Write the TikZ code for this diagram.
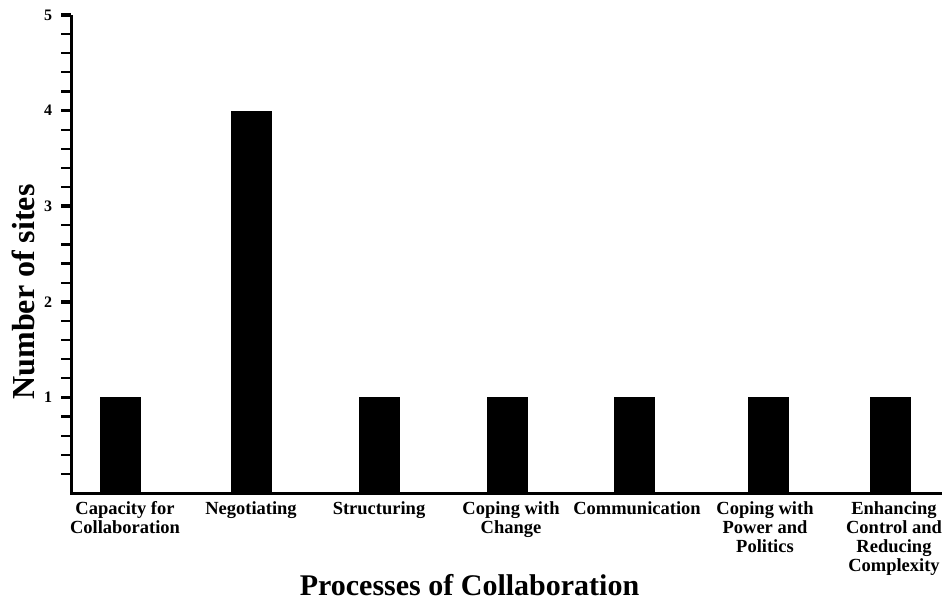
\documentclass[tikz,border=0pt]{standalone}
\usepackage{fontspec}
\setmainfont{Liberation Serif}
\begin{document}
\begin{tikzpicture}[x=1pt,y=-1pt,
  axisline/.style={line width=3pt},
  majortick/.style={line width=3.6pt},
  minortick/.style={line width=2.2pt},
  bar/.style={fill=black,draw=none},
  ticklabel/.style={font=\fontsize{16}{16}\selectfont\bfseries,inner sep=0pt},
  catlabel/.style={font=\fontsize{18.5}{19}\selectfont\bfseries,align=center,anchor=north,inner sep=0pt},
  axistitle/.style={font=\fontsize{30}{30}\selectfont\bfseries,inner sep=0pt}]
\useasboundingbox (0,0) rectangle (942,608);
% scale: value 0 at y=493, 95.6 units per site
\def\yz{493}
\def\yu{95.6}
% axes
\coordinate (origin) at (71,\yz);
\coordinate (ytop) at (71,15);
\coordinate (xend) at (942,\yz);
\draw[axisline] (ytop) -- (origin) -- (xend);
% minor ticks every 0.2
\foreach \k in {1,...,24}{
  \pgfmathsetmacro{\ty}{\yz-\yu*\k/5}
  \draw[minortick] (61,\ty) -- (71,\ty);
}
% major ticks and labels
\foreach \v in {1,...,5}{
  \pgfmathsetmacro{\ty}{\yz-\yu*\v}
  \draw[majortick] (61,\ty) -- (71,\ty);
  \node[ticklabel] (t\v) at (48,\ty) {\v};
}
% bars
\foreach \cx/\v/\nm in {120.5/1/b1,251.5/4/b2,379.5/1/b3,507.5/1/b4,634.5/1/b5,768.5/1/b6,890.5/1/b7}{
  \pgfmathsetmacro{\tp}{\yz-\yu*\v}
  \fill[bar] (\cx-20.5,\tp) rectangle (\cx+20.5,\yz);
  \coordinate (\nm) at (\cx,\yz);
}
% category labels
\node[catlabel] (c1) at (125,501) {Capacity for\\Collaboration};
\node[catlabel] (c2) at (251,501) {Negotiating};
\node[catlabel] (c3) at (379,501) {Structuring};
\node[catlabel] (c4) at (511,501) {Coping with\\Change};
\node[catlabel] (c5) at (637,501) {Communication};
\node[catlabel] (c6) at (765,501) {Coping with\\Power and\\Politics};
\node[catlabel] (c7) at (894,501) {Enhancing\\Control and\\Reducing\\Complexity};
% axis titles
\node[axistitle,anchor=base] (xt) at (469.5,595) {Processes of Collaboration};
\node[axistitle,anchor=base,rotate=90,font=\fontsize{32}{32}\selectfont\bfseries] (yt) at (34,292) {Number of sites};
\end{tikzpicture}
\end{document}
